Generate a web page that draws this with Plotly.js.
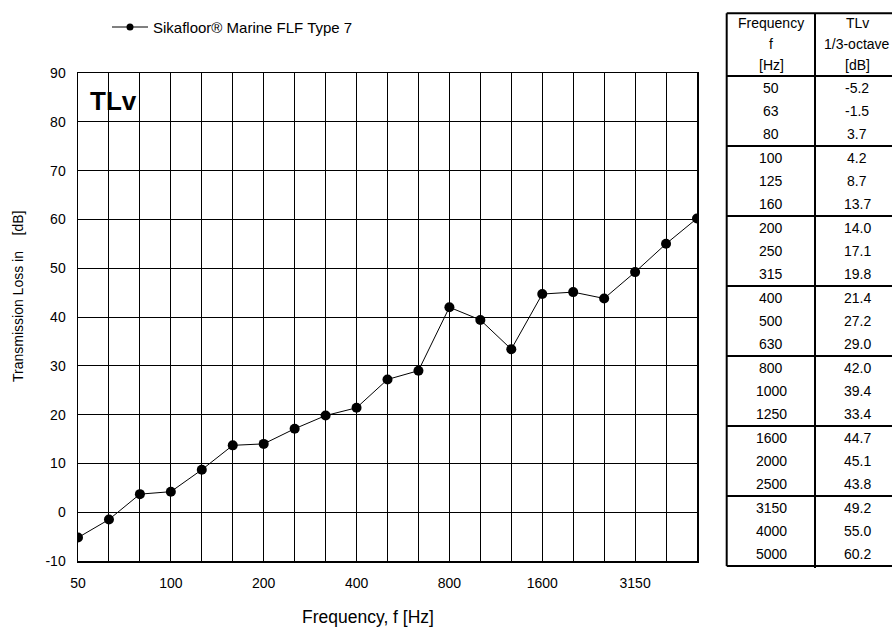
<!DOCTYPE html>
<html>
<head>
<meta charset="utf-8">
<script src="https://cdn.plot.ly/plotly-3.0.1.min.js"></script>
<style>html,body{margin:0;padding:0;background:#fff;}#chart{width:892px;height:627px;}</style>
</head>
<body>
<div id="chart"></div>
<script>
const freqs = ['50','63','80','100','125','160','200','250','315','400','500','630','800','1000','1250','1600','2000','2500','3150','4000','5000'];
const tlv = [-5.2,-1.5,3.7,4.2,8.7,13.7,14.0,17.1,19.8,21.4,27.2,29.0,42.0,39.4,33.4,44.7,45.1,43.8,49.2,55.0,60.2];
const xTickLabels = ['50','100','200','400','800','1600','3150'];
const yTickVals = [-10,0,10,20,30,40,50,60,70,80,90];
const yTickLabels = ['-10','0','10','20','30','40','50','60','70','80','90'];
const seriesName = 'Sikafloor\u00AE Marine FLF Type 7';
const headerFreq = ['Frequency','f','[Hz]'];
const headerTL = ['TLv','1/3-octave','[dB]'];

// pixel -> paper helpers (plot area: x 78..697, y 73..561)
const L = 78, R = 697, T = 73, B = 561;
const px = x => (x - L) / (R - L);
const py = y => (B - y) / (B - T);

const FAM = 'Liberation Sans, Arial, sans-serif';
const font = {family: FAM, size: 14, color: '#000'};

const annotations = [];
const shapes = [];

// legend (drawn manually to match small legend marker)
shapes.push({type:'line', xref:'paper', yref:'paper', x0:px(112), x1:px(148), y0:py(27), y1:py(27), line:{color:'#000', width:1}});
shapes.push({type:'circle', xref:'paper', yref:'paper', x0:px(126.5), x1:px(133.5), y0:py(30.5), y1:py(23.5), fillcolor:'#000', line:{color:'#000', width:0}});
annotations.push({xref:'paper', yref:'paper', x: px(151), y: py(27), xanchor:'left', yanchor:'middle',
  text: seriesName, showarrow:false, font:{family:FAM, size:15, color:'#000'}});

// TLv label in chart
annotations.push({xref:'paper', yref:'paper', x: px(88), y: py(101), xanchor:'left', yanchor:'middle',
  text:'<b>TLv</b>', showarrow:false, font:{family:FAM, size:26, color:'#000'}});
// axis titles
annotations.push({xref:'paper', yref:'paper', x: px(368), y: py(617), xanchor:'center', yanchor:'middle',
  text:'Frequency, f [Hz]', showarrow:false, font:{family:FAM, size:17.5, color:'#000'}});
annotations.push({xref:'paper', yref:'paper', x: px(18), y: py(297), xanchor:'center', yanchor:'middle',
  text:'Transmission Loss in    [dB]', textangle:-90, showarrow:false, font:font});

// Table
const tL = 726.7, tM = 815, tR = 898, tTop = 13.3, tHead = 76, grp = 70;
const c1 = 771, c2 = 857;
const headerY = [23, 44, 65];
headerFreq.forEach((t,i)=>annotations.push({xref:'paper', yref:'paper', x:px(c1), y:py(headerY[i]), xanchor:'center', yanchor:'middle', text:t, showarrow:false, font:font}));
headerTL.forEach((t,i)=>annotations.push({xref:'paper', yref:'paper', x:px(c2), y:py(headerY[i]), xanchor:'center', yanchor:'middle', text:t, showarrow:false, font:font}));
freqs.forEach((f,i)=>{
  const yc = tHead + Math.floor(i/3)*grp + ((i%3)+0.5)*grp/3;
  annotations.push({xref:'paper', yref:'paper', x:px(c1), y:py(yc), xanchor:'center', yanchor:'middle', text:f, showarrow:false, font:font});
  annotations.push({xref:'paper', yref:'paper', x:px(c2), y:py(yc), xanchor:'center', yanchor:'middle', text:tlv[i].toFixed(1), showarrow:false, font:font});
});
const nGroups = Math.ceil(freqs.length/3);
const tBot = tHead + nGroups*grp;
const lineStyle = {color:'#000', width:2};
const hLines = [tTop, tHead];
for (let g=1; g<=nGroups; g++) hLines.push(tHead + g*grp);
hLines.forEach(y=>shapes.push({type:'line', xref:'paper', yref:'paper', x0:px(tL), x1:px(tR), y0:py(y), y1:py(y), line:lineStyle}));
shapes.push({type:'line', xref:'paper', yref:'paper', x0:px(tL), x1:px(tL), y0:py(tTop), y1:py(tBot), line:lineStyle});
shapes.push({type:'line', xref:'paper', yref:'paper', x0:px(tM), x1:px(tM), y0:py(tTop), y1:py(tBot+2), line:lineStyle});

const trace = {
  x: freqs, y: tlv, type:'scatter', mode:'lines+markers', name: seriesName,
  line:{color:'#000', width:1}, marker:{color:'#000', size:10, symbol:'circle'}
};

const layout = {
  width:892, height:627,
  margin:{l:L, r:892-R, t:T, b:627-B, pad:0},
  paper_bgcolor:'#fff', plot_bgcolor:'#fff',
  font: font,
  showlegend:false,
  xaxis:{type:'category', categoryorder:'array', categoryarray:freqs, range:[0, freqs.length-1],
    tickmode:'array', tickvals:freqs, ticktext:freqs.map(f=>xTickLabels.includes(f)?f:''),
    showgrid:true, gridcolor:'#000', gridwidth:1, showline:true, linecolor:'#000', linewidth:1.5, mirror:true,
    ticks:'', ticklabelstandoff:9, tickfont:font, zeroline:false, fixedrange:true},
  yaxis:{range:[-10,90], tickmode:'array', tickvals:yTickVals, ticktext:yTickLabels,
    showgrid:true, gridcolor:'#000', gridwidth:1,
    showline:true, linecolor:'#000', linewidth:1.5, mirror:true, ticks:'', ticklabelstandoff:8,
    tickfont:font, zeroline:true, zerolinecolor:'#000', zerolinewidth:1, fixedrange:true},
  annotations: annotations,
  shapes: shapes
};

Plotly.newPlot('chart', [trace], layout, {displayModeBar:false, staticPlot:true});
</script>
</body>
</html>
